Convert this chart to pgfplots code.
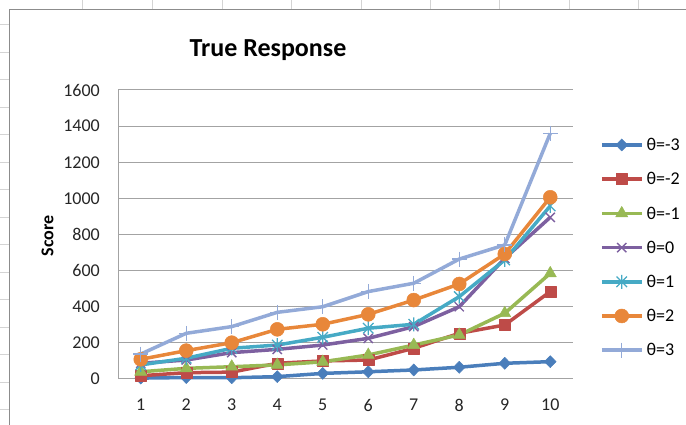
\documentclass[border=0pt]{standalone}
\usepackage{pgfplots}
\pgfplotsset{compat=1.18}
\usepackage{fontspec}
\setmainfont{Carlito}

\definecolor{gridgray}{HTML}{A3A3A3}
\definecolor{sheetgray}{HTML}{D4D4D4}
\definecolor{frame}{HTML}{8C8C8C}
\definecolor{sBlue}{HTML}{4A7EBB}
\definecolor{sRed}{HTML}{BE4B48}
\definecolor{sGreen}{HTML}{98B954}
\definecolor{sPurple}{HTML}{7D60A0}
\definecolor{sTeal}{HTML}{46AAC5}
\definecolor{sOrange}{HTML}{E8873A}
\definecolor{sLight}{HTML}{93AAD8}

% star marker: an x with a vertical stroke through it
\pgfdeclareplotmark{xstar}{%
  \pgfpathmoveto{\pgfqpoint{-.75\pgfplotmarksize}{-.75\pgfplotmarksize}}%
  \pgfpathlineto{\pgfqpoint{.75\pgfplotmarksize}{.75\pgfplotmarksize}}%
  \pgfpathmoveto{\pgfqpoint{-.75\pgfplotmarksize}{.75\pgfplotmarksize}}%
  \pgfpathlineto{\pgfqpoint{.75\pgfplotmarksize}{-.75\pgfplotmarksize}}%
  \pgfpathmoveto{\pgfqpoint{0pt}{-\pgfplotmarksize}}%
  \pgfpathlineto{\pgfqpoint{0pt}{\pgfplotmarksize}}%
  \pgfusepathqstroke}

\begin{document}
\begin{tikzpicture}[x=1pt,y=1pt]
  \path[use as bounding box] (0,0) rectangle (686,425);
  % worksheet cell grid peeking around the chart
  \foreach \cx in {82,152,222,291,361,430,499,569,638} {
    \draw[sheetgray, line width=0.8pt] (\cx,415) -- (\cx,425);
  }
  \foreach \ry in {24.5,52,79.5,107,134.5,162,189.5,217,244.5,272,299.5,327,354.5,382,409.5} {
    \draw[sheetgray, line width=0.8pt] (0,425-\ry) -- (9.5,425-\ry);
  }
  % chart area frame
  \draw[frame, line width=1pt] (9.5,0) -- (9.5,415) -- (686,415);

  \node[anchor=base, font=\fontsize{26}{30}\selectfont\bfseries] at (268,368) {True Response};
  \node[rotate=90, anchor=center, font=\fontsize{18}{20}\selectfont\bfseries] at (47.5,189) {Score};

  \begin{axis}[
    at={(118pt,46pt)}, anchor=south west,
    scale only axis, width=455pt, height=289pt,
    xmin=0.5, xmax=10.5, ymin=0, ymax=1600,
    xtick={1,...,10}, ytick={0,200,...,1600},
    axis x line=bottom, axis y line=left,
    axis line style={-, draw=gridgray, line width=1pt},
    ymajorgrids, major grid style={draw=gridgray, line width=1pt},
    major tick length=0pt,
    /pgf/number format/assume math mode=true,
    /pgf/number format/1000 sep={},
    ticklabel style={font=\fontsize{18}{20}\selectfont, text=black!85},
    yticklabel style={anchor=east, inner sep=0pt, xshift=-18pt},
    xticklabel style={anchor=north, inner sep=0pt, yshift=-20pt},
    clip=false,
    every axis plot/.append style={line width=3.5pt, line join=round},
    legend image code/.code={%
      \draw[mark repeat=2, mark phase=2, #1]
        plot coordinates {(0pt,0pt) (20pt,0pt) (40pt,0pt)};},
    legend cell align=left,
    legend style={at={(1,1)}, anchor=north west, xshift=27pt, yshift=-45pt,
      draw=none, fill=none, inner sep=0pt, outer sep=0pt,
      row sep=14.2pt, column sep=3pt,
      font=\fontsize{18}{20}\selectfont,
      nodes={inner sep=0pt, anchor=west, text height=15.7pt, text depth=4.3pt}},
  ]
    \addplot[color=sBlue, mark=diamond*, mark size=6pt,
      mark options={xscale=1.3, solid, line width=0.5pt}]
      coordinates {(1,5) (2,8) (3,7) (4,13) (5,31) (6,40) (7,50) (8,65) (9,87) (10,96)};
    \addlegendentry{θ=-3}
    \addplot[color=sRed, mark=square*, mark size=5.5pt,
      mark options={solid, line width=0.5pt}]
      coordinates {(1,18) (2,35) (3,38) (4,87) (5,100) (6,105) (7,170) (8,253) (9,299) (10,484)};
    \addlegendentry{θ=-2}
    \addplot[color=sGreen, mark=triangle*, mark size=7pt,
      mark options={solid, line width=0.5pt}]
      coordinates {(1,40) (2,59) (3,68) (4,78) (5,95) (6,133) (7,188) (8,244) (9,364) (10,585)};
    \addlegendentry{θ=-1}
    \addplot[color=sPurple, mark=x, mark size=6.5pt,
      mark options={solid, line width=1.3pt}]
      coordinates {(1,87) (2,105) (3,146) (4,164) (5,188) (6,225) (7,290) (8,400) (9,668) (10,895)};
    \addlegendentry{θ=0}
    \addplot[color=sTeal, mark=xstar, mark size=7pt,
      mark options={solid, line width=1.3pt}]
      coordinates {(1,78) (2,115) (3,170) (4,188) (5,231) (6,281) (7,303) (8,456) (9,659) (10,958)};
    \addlegendentry{θ=1}
    \addplot[color=sOrange, mark=*, mark size=7pt,
      mark options={solid, line width=0.5pt}]
      coordinates {(1,109) (2,157) (3,201) (4,275) (5,303) (6,358) (7,437) (8,526) (9,692) (10,1006)};
    \addlegendentry{θ=2}
    \addplot[color=sLight, mark=+, mark size=7.5pt,
      mark options={solid, line width=1.3pt}]
      coordinates {(1,138) (2,253) (3,290) (4,369) (5,400) (6,484) (7,530) (8,664) (9,742) (10,1360)};
    \addlegendentry{θ=3}
  \end{axis}
\end{tikzpicture}
\end{document}
